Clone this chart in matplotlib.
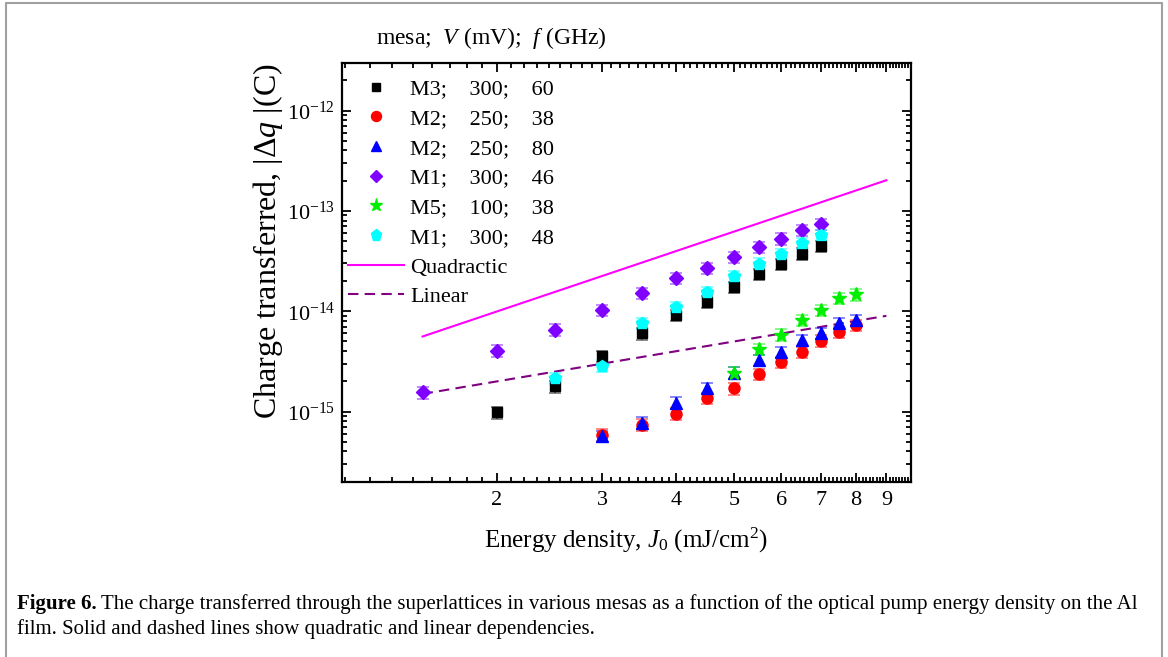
import matplotlib
matplotlib.use('Agg')
import matplotlib.pyplot as plt
import matplotlib.colors as mcolors
import numpy as np
from matplotlib.lines import Line2D
from matplotlib.ticker import NullFormatter, LogLocator, FixedLocator

plt.rcParams['font.family'] = ['Liberation Serif', 'DejaVu Serif']
plt.rcParams['mathtext.fontset'] = 'custom'
plt.rcParams['mathtext.rm'] = 'Liberation Serif'
plt.rcParams['mathtext.it'] = 'Liberation Serif:italic'
plt.rcParams['axes.unicode_minus'] = False

# --- data (J0 in mJ/cm^2, |dq| in C) ---
J_m3 = [2.0, 2.5, 3.0, 3.5, 4.0, 4.5, 5.0, 5.5, 6.0, 6.5, 7.0]
Q_m3 = [9.8e-16, 1.78e-15, 3.55e-15, 6.0e-15, 9.1e-15, 1.25e-14, 1.74e-14,
        2.33e-14, 2.93e-14, 3.75e-14, 4.44e-14]

J_m2_38 = [3.0, 3.5, 4.0, 4.5, 5.0, 5.5, 6.0, 6.5, 7.0, 7.5, 8.0]
Q_m2_38 = [5.9e-16, 7.4e-16, 9.55e-16, 1.36e-15, 1.7e-15, 2.37e-15, 3.09e-15,
           3.89e-15, 5.09e-15, 6.17e-15, 7.31e-15]

J_m2_80 = [3.0, 3.5, 4.0, 4.5, 5.0, 5.5, 6.0, 6.5, 7.0, 7.5, 8.0]
Q_m2_80 = [5.7e-16, 7.76e-16, 1.23e-15, 1.71e-15, 2.45e-15, 3.27e-15, 3.89e-15,
           5.18e-15, 6.03e-15, 7.59e-15, 8.2e-15]

J_m1_46 = [1.5, 2.0, 2.5, 3.0, 3.5, 4.0, 4.5, 5.0, 5.5, 6.0, 6.5, 7.0]
Q_m1_46 = [1.55e-15, 4.05e-15, 6.56e-15, 1.03e-14, 1.51e-14, 2.14e-14, 2.69e-14,
           3.47e-14, 4.37e-14, 5.3e-14, 6.41e-14, 7.36e-14]

J_m5 = [5.0, 5.5, 6.0, 6.5, 7.0, 7.5, 8.0]
Q_m5 = [2.45e-15, 4.2e-15, 5.85e-15, 8.2e-15, 1.03e-14, 1.36e-14, 1.47e-14]

J_m1_48 = [2.5, 3.0, 3.5, 4.0, 4.5, 5.0, 5.5, 6.0, 6.5, 7.0]
Q_m1_48 = [2.14e-15, 2.86e-15, 7.59e-15, 1.1e-14, 1.55e-14, 2.22e-14, 2.98e-14,
           3.69e-14, 4.79e-14, 5.71e-14]

err_frac = 0.13  # relative error bars

quad_J = [1.5, 9.0]
quad_Q = [5.6e-15, 2.02e-13]
lin_J = [1.5, 9.0]
lin_Q = [1.5e-15, 9.0e-15]

labels = ['M3;    300;    60', 'M2;    250;    38', 'M2;    250;    80',
          'M1;    300;    46', 'M5;    100;    38', 'M1;    300;    48']

x_ticks = [2, 3, 4, 5, 6, 7, 8, 9]
y_ticks = [1e-15, 1e-14, 1e-13, 1e-12]

series = [
    (J_m3, Q_m3, 's', 'black', 7),
    (J_m2_38, Q_m2_38, 'o', '#ff0000', 8),
    (J_m2_80, Q_m2_80, '^', '#0000ff', 8.5),
    (J_m1_46, Q_m1_46, 'D', '#7f00ff', 7),
    (J_m5, Q_m5, '*', '#00ee00', 10.5),
    (J_m1_48, Q_m1_48, 'p', '#00ffff', 9),
]

W, H = 1168, 657
fig = plt.figure(figsize=(W / 100, H / 100), dpi=100)
ax = fig.add_axes([342.3 / W, 1 - 481.7 / H, (911 - 342.3) / W, (481.7 - 62.7) / H])

# fit lines
ax.plot(quad_J, quad_Q, color='#ff00ff', lw=1.5, zorder=1)
ax.plot(lin_J, lin_Q, color='#800080', lw=1.5, dashes=(5, 3), zorder=1)

handles = []
for (J, Q, mk, c, ms), lab in zip(series, labels):
    Q = np.array(Q)
    ec = mcolors.to_rgba(c, 0.55)
    ax.errorbar(J, Q, yerr=Q * err_frac, fmt=mk, color=c, ms=ms, mec=c,
                ecolor=ec, elinewidth=1.2, capsize=4, capthick=1.2, zorder=3)
    handles.append(Line2D([], [], ls='none', marker=mk, color=c, ms=ms * 0.9, mec=c))

handles.append(Line2D([], [], color='#ff00ff', lw=1.5))
handles.append(Line2D([], [], color='#800080', lw=1.5, dashes=(5, 3)))
all_labels = labels + ['Quadractic', 'Linear']

ax.set_xscale('log')
ax.set_yscale('log')
ax.set_xlim(1.1, 9.9)
ax.set_ylim(2e-16, 3e-12)

ax.set_xticks(x_ticks)
ax.set_xticklabels([str(v) for v in x_ticks])
minor_x = [n + k / 9 for n in range(1, 10) for k in range(1, 9) if n + k / 9 < 9.9]
ax.set_xticks(minor_x, minor=True)
ax.xaxis.set_minor_formatter(NullFormatter())
ax.yaxis.set_major_locator(FixedLocator(y_ticks))
ax.yaxis.set_minor_locator(LogLocator(base=10, subs=np.arange(2, 10)))
ax.yaxis.set_minor_formatter(NullFormatter())

ax.tick_params(which='both', direction='in', top=True, right=True, width=1.3)
ax.tick_params(which='major', length=6.5, labelsize=16)
ax.tick_params(axis='x', which='major', pad=7)
ax.tick_params(axis='y', which='major', pad=5)
ax.tick_params(which='minor', length=3.5)
for sp in ax.spines.values():
    sp.set_linewidth(1.6)

ax.legend(handles, all_labels, loc='upper left',
          bbox_to_anchor=(348 / W, 1 - 79 / H), bbox_transform=fig.transFigure,
          frameon=False, fontsize=16, handlelength=2.5, handletextpad=0.3,
          labelspacing=0.41, borderpad=0, borderaxespad=0)

fig.text(376 / W, 1 - 38 / H, 'mesa;  $V$ (mV);  $f$ (GHz)', fontsize=17,
         va='center', ha='left')
fig.text(268 / W, 1 - 241 / H, r'Charge transferred, |Δ$q$ |(C)', fontsize=23,
         rotation=90, ha='center', va='center')
fig.text(626 / W, 1 - 540 / H, r'Energy density, $J_0$ (mJ/cm$^2$)', fontsize=18,
         ha='center', va='center')

# caption
r = fig.canvas.get_renderer()
t = fig.text(17 / W, 1 - 604 / H, 'Figure 6.', fontsize=15, weight='bold',
             va='center', ha='left')
bb = t.get_window_extent(r)
fig.text((bb.x1 + 4) / W, 1 - 604 / H,
         'The charge transferred through the superlattices in various mesas as a '
         'function of the optical pump energy density on the Al',
         fontsize=15, va='center', ha='left')
fig.text(17 / W, 1 - 629 / H,
         'film. Solid and dashed lines show quadratic and linear dependencies.',
         fontsize=15, va='center', ha='left')

# page border (left, top, right)
bx = [6 / W, 6 / W, 1162 / W, 1162 / W]
by = [0, 1 - 3 / H, 1 - 3 / H, 0]
fig.add_artist(Line2D(bx, by, transform=fig.transFigure, color='#a0a0a0', lw=1.5))

fig.savefig('out.png', dpi=100)
